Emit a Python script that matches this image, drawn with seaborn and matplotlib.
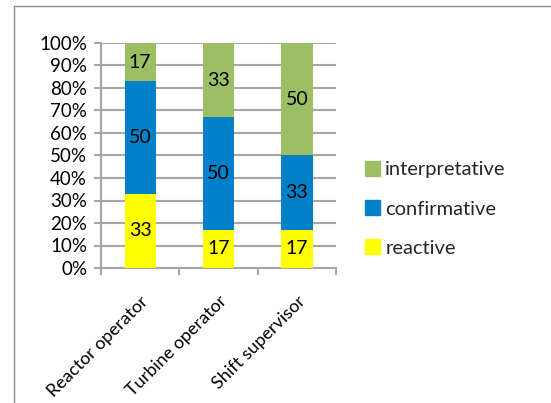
import matplotlib
matplotlib.use("Agg")
import matplotlib.pyplot as plt
from matplotlib.patches import Rectangle
from matplotlib.ticker import FixedLocator, PercentFormatter
import pandas as pd
import seaborn as sns

roles = ["Reactor operator", "Turbine operator", "Shift supervisor"]
reactive = [33, 17, 17]
confirmative = [50, 50, 33]
interpretative = [17, 33, 50]
colors = {"reactive": "#FFFF00", "confirmative": "#0080C8", "interpretative": "#9DBF63"}
yticks = [0, 10, 20, 30, 40, 50, 60, 70, 80, 90, 100]

sns.set_theme(style="white")
plt.rcParams["font.family"] = ["Lato", "DejaVu Sans"]

grid_color = "#A6A6A6"
fig = plt.figure(figsize=(5.51, 4.03), dpi=100)
ax = fig.add_axes([101 / 551, 1 - 268 / 403, (336 - 101) / 551, (268 - 43) / 403])

# outer chart frame
fig.patches.append(Rectangle((14 / 551, -0.1), 1.2, 1.1 - 6.5 / 403,
                             transform=fig.transFigure, fill=False,
                             edgecolor="#8C8C8C", linewidth=1.0, zorder=0))

df = pd.DataFrame({"role": roles, "reactive": reactive,
                   "confirmative": confirmative, "interpretative": interpretative})
df["c1"] = df["reactive"]
df["c2"] = df["reactive"] + df["confirmative"]
df["c3"] = df["c2"] + df["interpretative"]

# stacked bars drawn as overlaid cumulative totals
for col, name in [("c3", "interpretative"), ("c2", "confirmative"), ("c1", "reactive")]:
    sns.barplot(data=df, x="role", y=col, color=colors[name], saturation=1,
                width=0.4, ax=ax, label=name, zorder=3, linewidth=0, legend=False)

# segment value labels
for i in range(len(roles)):
    bottom = 0
    for vals in (reactive, confirmative, interpretative):
        v = vals[i]
        ax.text(i, bottom + v / 2, str(v), ha="center", va="center",
                fontsize=14, color="black", zorder=4)
        bottom += v

ax.set_ylim(0, 100)
ax.set_xlim(-0.5, 2.5)
ax.set_yticks(yticks)
ax.yaxis.set_major_formatter(PercentFormatter(decimals=0))
ax.yaxis.grid(True, color=grid_color, linewidth=1.5, zorder=0)
ax.set_axisbelow(True)
ax.set_xlabel("")
ax.set_ylabel("")

for s in ["top", "right"]:
    ax.spines[s].set_visible(False)
for s in ["left", "bottom"]:
    ax.spines[s].set_color(grid_color)
    ax.spines[s].set_linewidth(1.5)

ax.tick_params(axis="y", which="major", left=True, length=5, width=1.5,
               color=grid_color, labelsize=13.5, pad=5, labelcolor="black")
ax.set_xticks([0, 1, 2])
ax.set_xticklabels(roles, rotation=45, ha="right", rotation_mode="anchor",
                   fontsize=13, color="black")
ax.tick_params(axis="x", which="major", bottom=False, pad=12)
ax.xaxis.set_minor_locator(FixedLocator([-0.5, 0.5, 1.5, 2.5]))
ax.tick_params(axis="x", which="minor", bottom=True, length=5, width=1.5,
               color=grid_color)

handles = [Rectangle((0, 0), 1, 1, color=colors[n]) for n in
           ["interpretative", "confirmative", "reactive"]]
fig.legend(handles, ["interpretative", "confirmative", "reactive"],
           loc="upper left", bbox_to_anchor=(365 / 551, 1 - 161 / 403),
           frameon=False, fontsize=14.5, handlelength=0.75, handleheight=0.75,
           handletextpad=0.25, labelspacing=1.08, borderaxespad=0, borderpad=0)

fig.savefig("out.png", dpi=100)
